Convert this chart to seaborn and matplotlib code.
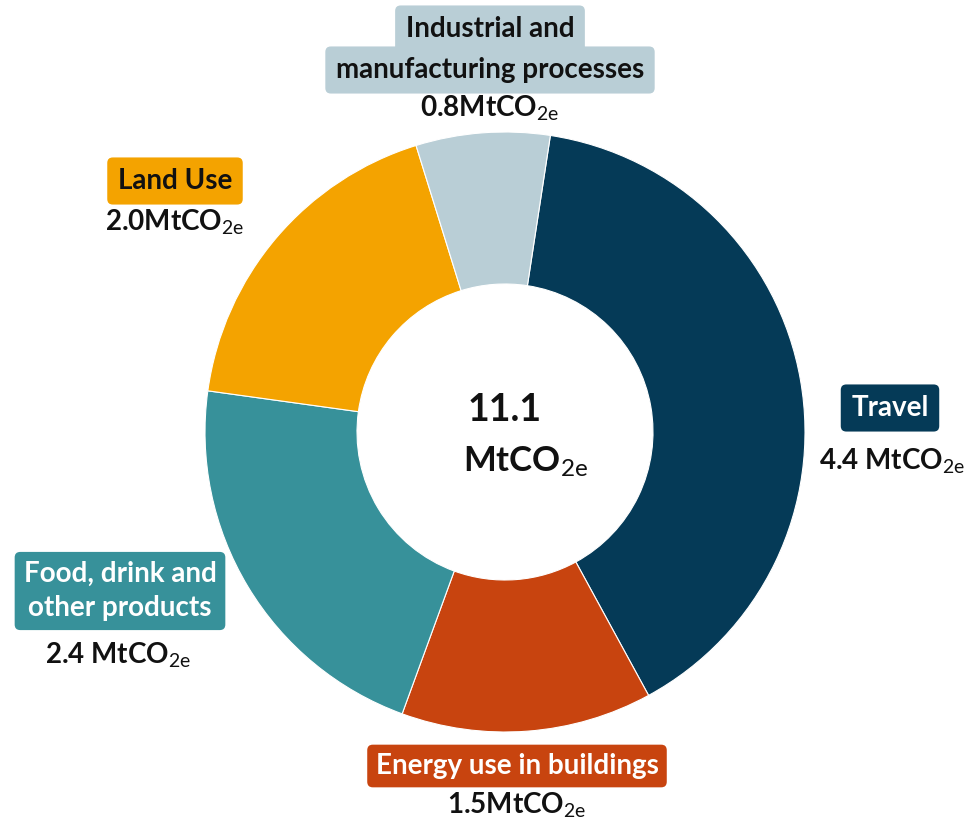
import seaborn as sns
import matplotlib.pyplot as plt
import matplotlib as mpl

### Datos del gráfico
categorias = ["Travel", "Energy use in buildings", "Food, drink and\nother products",
              "Land Use", "Industrial and manufacturing processes"]
valores = [4.4, 1.5, 2.4, 2.0, 0.8]
etiquetas_valor = ["4.4 MtCO", "1.5MtCO", "2.4 MtCO", "2.0MtCO", "0.8MtCO"]
total = "11.1"
colores = ["#053a57", "#c8440f", "#37919a", "#f4a300", "#b9ced6"]
colores_texto = ["white", "white", "white", "#111111", "#111111"]

sns.set_theme(style="white")
plt.rcParams['font.family'] = ['Lato', 'DejaVu Sans']
mpl.rcParams['mathtext.fontset'] = 'custom'
mpl.rcParams['mathtext.rm'] = 'Lato'
mpl.rcParams['mathtext.it'] = 'Lato'
mpl.rcParams['mathtext.bf'] = 'Lato:bold'

W, H = 978, 819
fig = plt.figure(figsize=(W / 100, H / 100), dpi=100)
ax = fig.add_axes([0, 0, 1, 1])
ax.set_xlim(0, W)
ax.set_ylim(0, H)
ax.set_aspect('equal')
ax.axis('off')

def Y(y):  # coordenada y medida desde arriba
    return H - y

## Dona
ax.pie(valores, colors=sns.color_palette(colores), startangle=81.3, counterclock=False,
       center=(505, Y(432)), radius=300,
       wedgeprops=dict(width=152, edgecolor='white', linewidth=0.8))
ax.set_xlim(0, W)
ax.set_ylim(0, H)

sub = r"$_{\mathrm{2e}}$"

## Etiquetas con caja
def caja(x, y, texto, i, ha='center', ls=1.2, pad=0.38):
    ax.text(x, Y(y), texto, ha=ha, va='center', fontsize=20, fontweight='bold',
            color=colores_texto[i], linespacing=ls,
            bbox=dict(boxstyle=f"round,pad={pad},rounding_size=0.2",
                      fc=colores[i], ec='none'))

def valor(x, y, i):
    ax.text(x, Y(y), etiquetas_valor[i] + sub, ha='center', va='center',
            fontsize=20, fontweight='bold', color='#111111')

# Travel
caja(890, 408, categorias[0], 0)
valor(892, 461, 0)
# Energy
caja(517, 766, categorias[1], 1, pad=0.3)
valor(517, 805, 1)
# Food
caja(120, 591, categorias[2], 2, ls=1.4, pad=0.32)
valor(118, 655, 2)
# Land use
caja(175, 181, categorias[3], 3)
valor(175, 222, 3)
# Industrial (dos cajas, una por línea)
caja(490, 29, "Industrial and", 4)
caja(490, 70, "manufacturing processes", 4)
valor(490, 108, 4)

## Total al centro
ax.text(505, Y(410), total, ha='center', va='center', fontsize=27, fontweight='bold',
        color='#111111')
ax.text(526, Y(462), "MtCO" + sub, ha='center', va='center', fontsize=25,
        fontweight='bold', color='#111111')

plt.savefig("out.png", dpi=100)
